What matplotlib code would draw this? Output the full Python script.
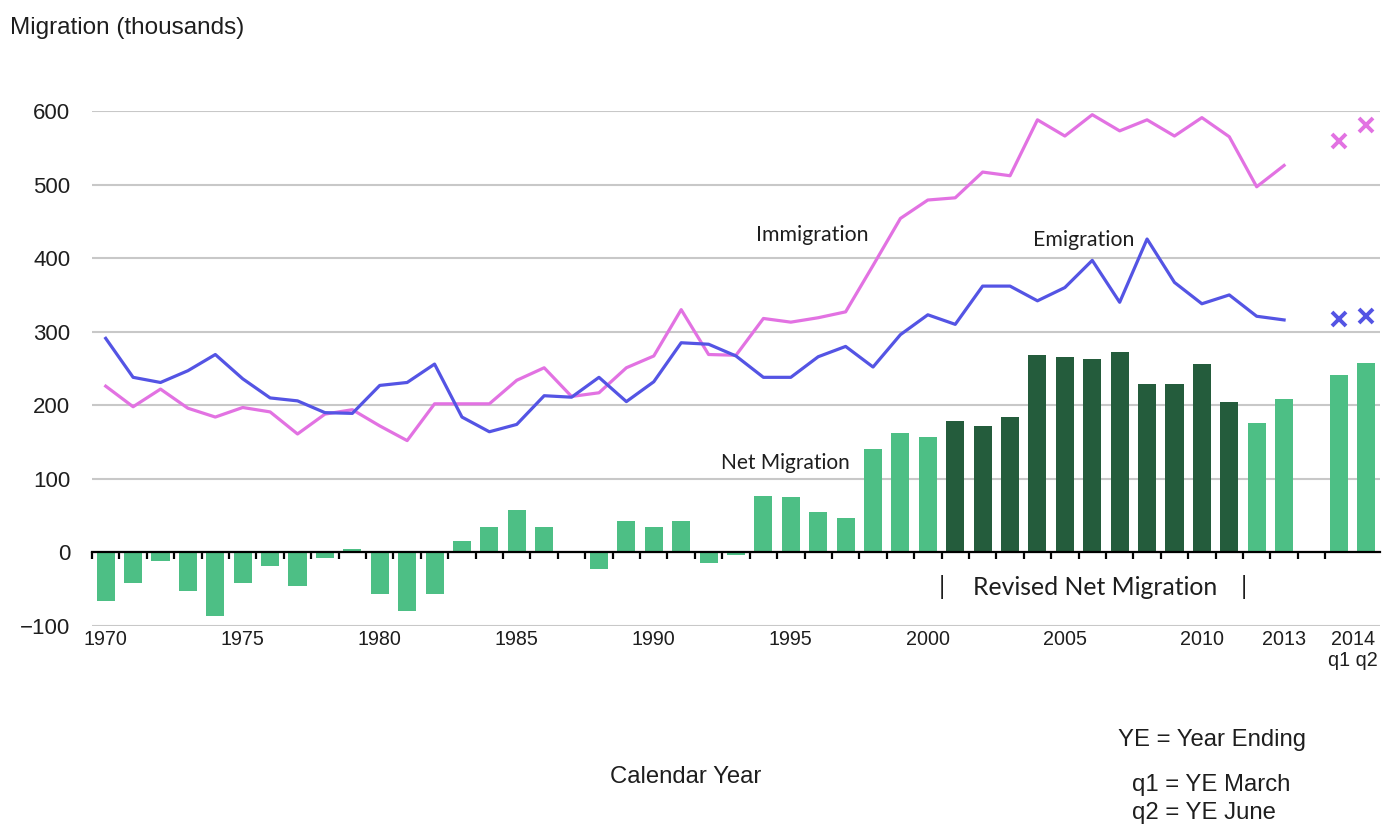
import matplotlib
matplotlib.use("Agg")
import matplotlib.pyplot as plt
import numpy as np

plt.rcParams['font.family'] = ['Liberation Sans', 'DejaVu Sans']

years = list(range(1970, 2014))
categories = [str(y) for y in years] + ["", "2014 q1", "2014 q2"]

net_migration = [-66, -42, -12, -52, -86, -42, -19, -46, -7, 5,
                 -57, -79, -57, 15, 34, 57, 34, 2, -22, 43,
                 34, 43, -14, -4, 77, 75, 55, 47, 140, 162,
                 157, 179, 172, 184, 269, 266, 263, 273, 229, 229,
                 256, 204, 176, 209]
net_quarters = [241, 258]

immigration = [226, 198, 222, 196, 184, 197, 191, 161, 188, 194,
               172, 152, 202, 202, 202, 234, 251, 212, 217, 251,
               267, 330, 269, 268, 318, 313, 319, 327, 390, 454,
               479, 482, 517, 512, 588, 566, 595, 573, 588, 566,
               591, 565, 497, 526]
immigration_quarters = [559, 581]

emigration = [291, 238, 231, 247, 269, 236, 210, 206, 190, 189,
              227, 231, 256, 184, 164, 174, 213, 211, 238, 205,
              232, 285, 283, 267, 238, 238, 266, 280, 252, 296,
              323, 310, 362, 362, 342, 360, 397, 340, 426, 367,
              338, 350, 321, 316]
emigration_quarters = [317, 321]

revised_years = list(range(2001, 2012))
tick_labels = {1970: "1970", 1975: "1975", 1980: "1980", 1985: "1985", 1990: "1990",
               1995: "1995", 2000: "2000", 2005: "2005", 2010: "2010", 2013: "2013"}

LIGHT = "#4DBF85"
DARK = "#245C3C"
IMM = "#E272E2"
EMI = "#5454E4"
TXT = "#1E1E1E"

fig = plt.figure(figsize=(13.84, 8.27), dpi=100)
ax = fig.add_axes([92/1384, 1-626/827, 1288/1384, (626-111)/827])

n_year = len(years)
x_years = np.arange(n_year)
x_q = np.array([n_year + 1, n_year + 2])

bar_colors = [DARK if y in revised_years else LIGHT for y in years]
ax.bar(x_years, net_migration, width=0.66, color=bar_colors, zorder=3)
ax.bar(x_q, net_quarters, width=0.66, color=LIGHT, zorder=3)

ax.plot(x_years, immigration, color=IMM, lw=2.3, zorder=4, clip_on=False)
ax.plot(x_years, emigration, color=EMI, lw=2.3, zorder=4)
ax.plot(x_q, immigration_quarters, ls='none', marker='x', ms=9.5, mew=2.8, color=IMM, zorder=4, clip_on=False)
ax.plot(x_q, emigration_quarters, ls='none', marker='x', ms=9.5, mew=2.8, color=EMI, zorder=4)

ax.set_xlim(-0.5, n_year + 2.5)
ax.set_ylim(-100, 600)
ax.set_yticks(range(-100, 601, 100))
ax.yaxis.grid(True, color="#C8C8C8", lw=1.5, zorder=0)
ax.tick_params(axis='y', length=0, pad=15.5, labelsize=16, labelcolor=TXT)
for s in ['left', 'right', 'top']:
    ax.spines[s].set_visible(False)
ax.spines['bottom'].set_position(('data', 0))
ax.spines['bottom'].set_color('black')
ax.spines['bottom'].set_linewidth(1.6)
ax.spines['bottom'].set_zorder(5)

major_pos = [years.index(y) for y in tick_labels] + [n_year + 1.5]
major_lab = list(tick_labels.values()) + ["2014\nq1 q2"]
ax.set_xticks(major_pos)
ax.set_xticklabels(major_lab, fontsize=14.2, color=TXT, linespacing=1.15)
ax.set_xticks(np.arange(-0.5, n_year + 2.5, 1.0), minor=True)
ax.tick_params(axis='x', which='major', length=0, pad=55.5)
ax.tick_params(axis='x', which='minor', length=5, width=1.6, direction='out', color='black')

calibri = ['Lato', 'DejaVu Sans']
ax.text(25.8, 431, "Immigration", fontsize=15.3, family=calibri, ha='center', va='center', color=TXT)
ax.text(35.7, 424, "Emigration", fontsize=15.3, family=calibri, ha='center', va='center', color=TXT)
ax.text(24.8, 121, "Net Migration", fontsize=15, family=calibri, ha='center', va='center', color=TXT)
ax.text(36.1, -47, "Revised Net Migration", fontsize=17.8, family=calibri, ha='center', va='center', color=TXT)
ax.text(30.53, -47, "|", fontsize=17.8, family=calibri, ha='center', va='center', color=TXT)
ax.text(41.55, -47, "|", fontsize=17.8, family=calibri, ha='center', va='center', color=TXT)

fig.text(10/1384, 1-28/827, "Migration (thousands)", fontsize=17.5, ha='left', va='center', color=TXT)
fig.text(686/1384, 1-777/827, "Calendar Year", fontsize=17.2, ha='center', va='center', color=TXT)
fig.text(1118/1384, 1-740/827, "YE = Year Ending", fontsize=17.2, ha='left', va='center', color=TXT)
fig.text(1132/1384, 1-785/827, "q1 = YE March", fontsize=17.2, ha='left', va='center', color=TXT)
fig.text(1132/1384, 1-813/827, "q2 = YE June", fontsize=17.2, ha='left', va='center', color=TXT)

fig.savefig("out.png", dpi=100)
